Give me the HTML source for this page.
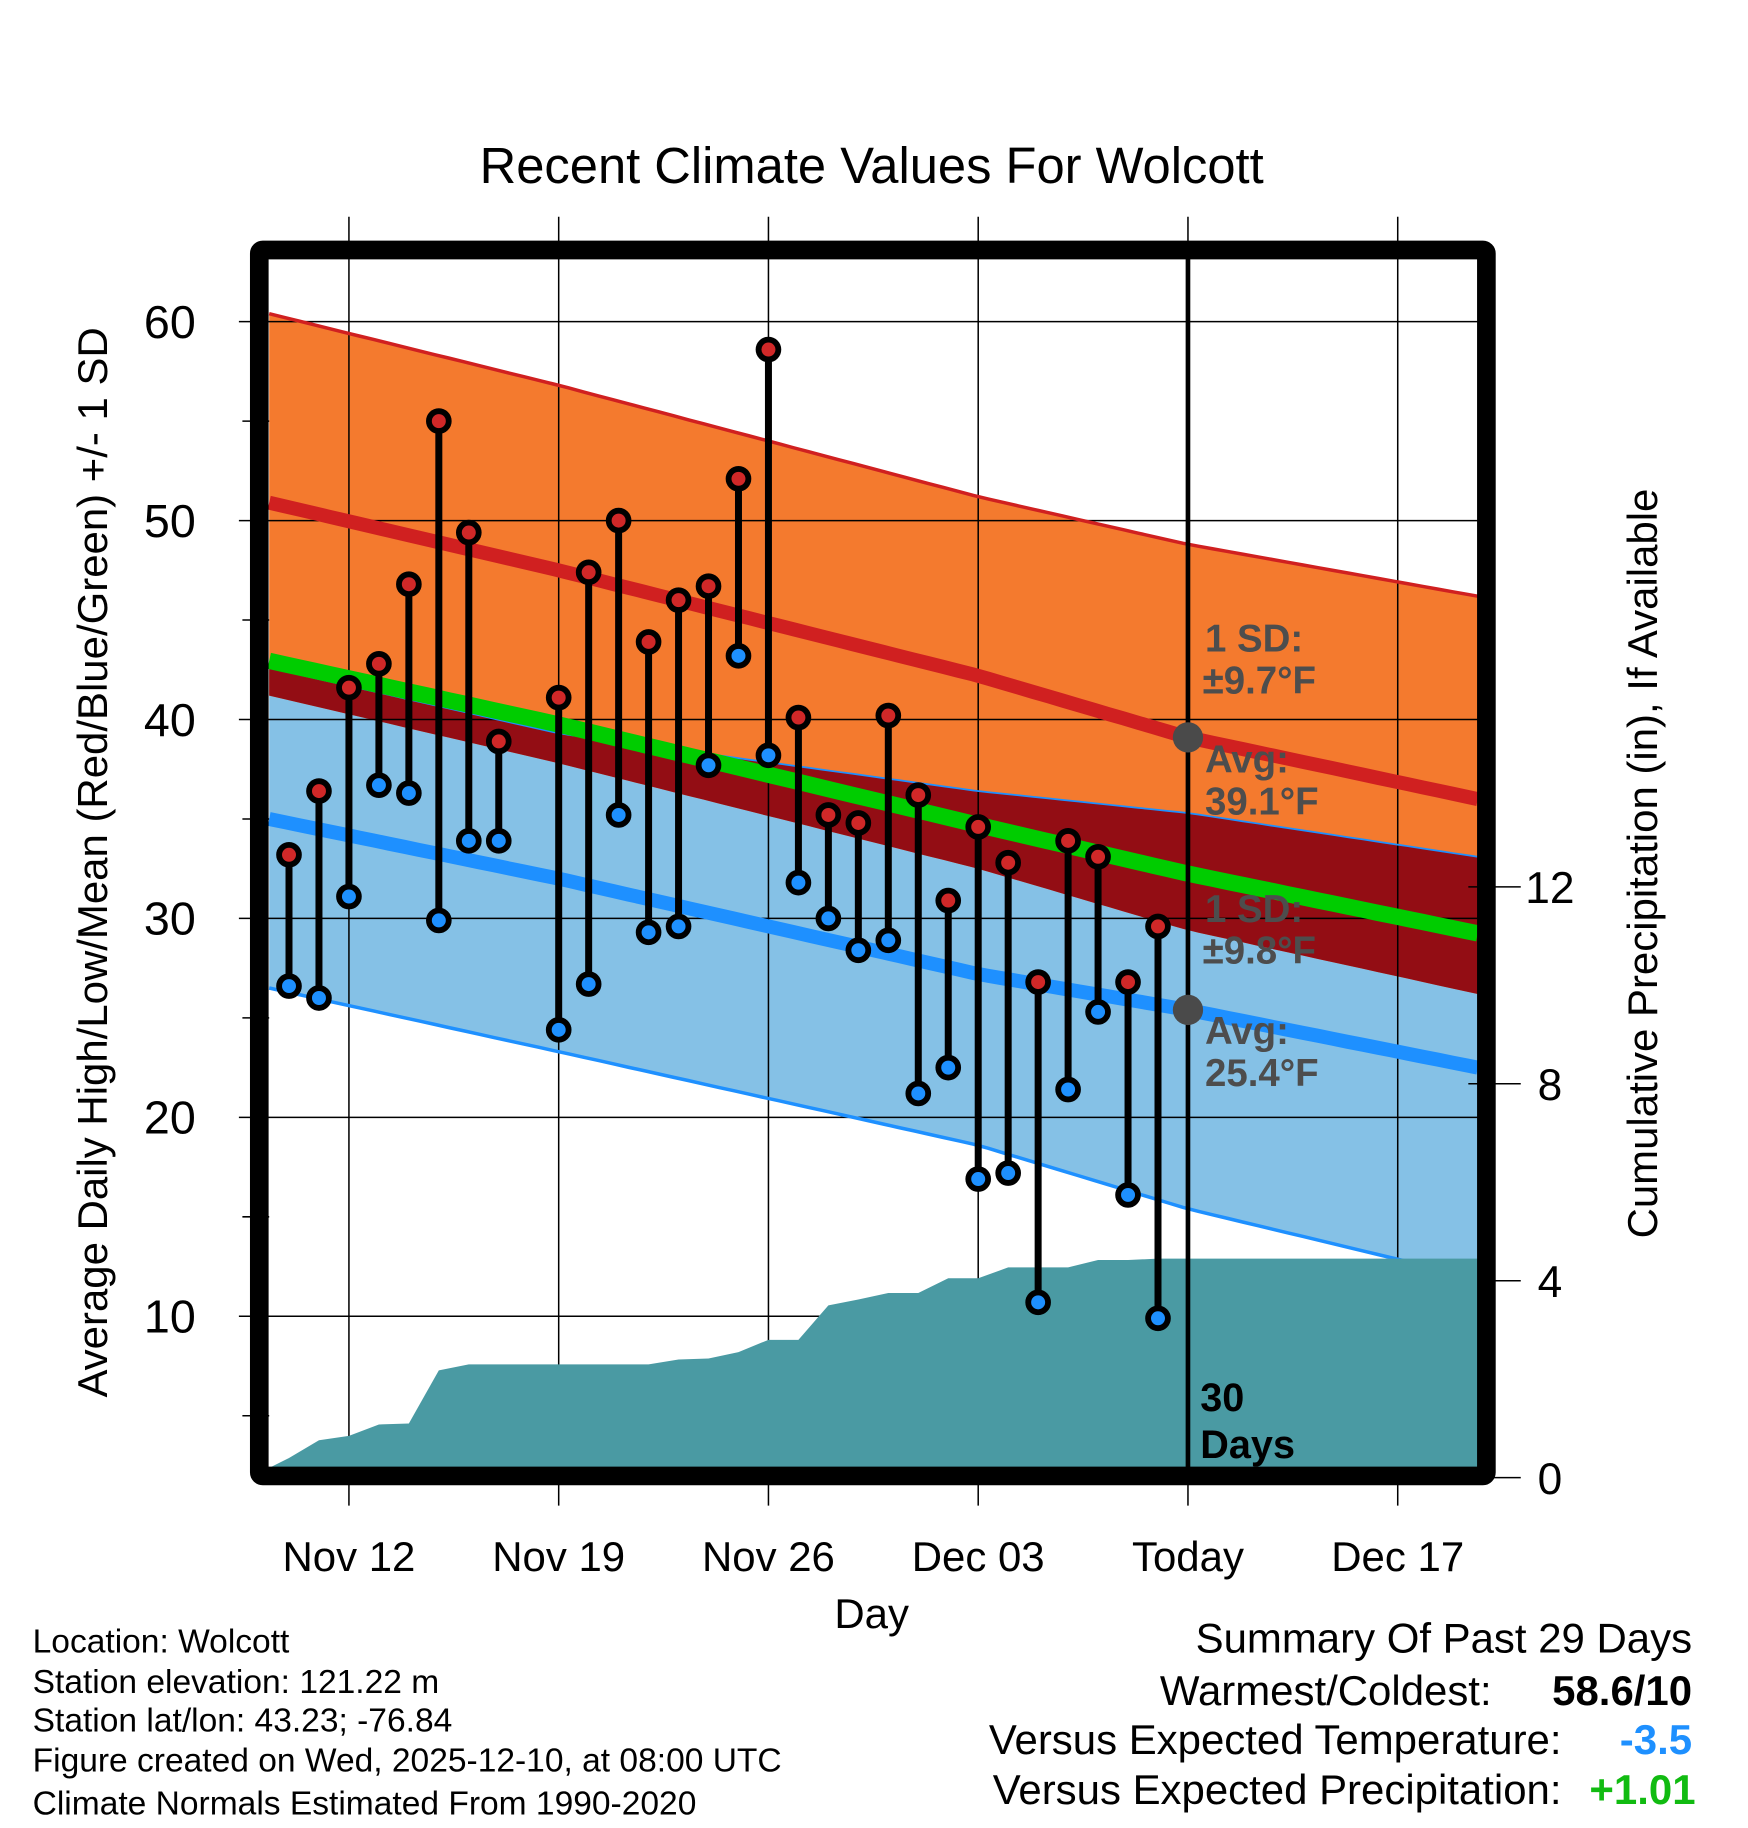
<!DOCTYPE html>
<html><head><meta charset="utf-8"><style>
html,body{margin:0;padding:0;background:#fff}
svg{display:block}
text{font-family:"Liberation Sans",Arial,sans-serif}
</style></head><body>
<svg id="chart" width="1748" height="1828" viewBox="0 0 1500 1568.6" xmlns="http://www.w3.org/2000/svg">
<g id="fills"></g>
<g id="grid"></g>
<g id="lines"></g>
<g id="precip"></g>
<g id="marks"></g>
<g id="labels"></g>
</svg>
<script>
// ---- data ----
const dayLabels = ["Nov 10","Nov 11","Nov 12","Nov 13","Nov 14","Nov 15","Nov 16","Nov 17","Nov 18","Nov 19","Nov 20","Nov 21","Nov 22","Nov 23","Nov 24","Nov 25","Nov 26","Nov 27","Nov 28","Nov 29","Nov 30","Dec 01","Dec 02","Dec 03","Dec 04","Dec 05","Dec 06","Dec 07","Dec 08","Dec 09"];
const highs = [33.2,36.4,41.6,42.8,46.8,55.0,49.4,38.9,null,41.1,47.4,50.0,43.9,46.0,46.7,52.1,58.6,40.1,35.2,34.8,40.2,36.2,30.9,34.6,32.8,26.8,33.9,33.1,26.8,29.6];
const lows  = [26.6,26.0,31.1,36.7,36.3,29.9,33.9,33.9,null,24.4,26.7,35.2,29.3,29.6,37.7,43.2,38.2,31.8,30.0,28.4,28.9,21.2,22.5,16.9,17.2,10.7,21.4,25.3,16.1,9.9];
const precip = [0.4,0.76,0.85,1.08,1.1,2.18,2.3,2.3,2.3,2.3,2.3,2.3,2.3,2.4,2.42,2.55,2.8,2.8,3.5,3.62,3.75,3.75,4.05,4.05,4.27,4.27,4.27,4.42,4.42,4.45];
const precipStart = 0.2;
// normals at day offsets (0 = Nov 10)
const normDays  = [-0.66,9,23,30,39.67];
const highAvg   = [50.9,47.5,42.2,39.1,36.0];
const highUpper = [60.4,56.8,51.2,48.8,46.2];
const highLower = [41.2,37.8,32.5,29.4,26.2];
const lowAvg    = [35.0,32.0,27.2,25.4,22.5];
const lowUpper  = [42.6,39.3,36.4,35.3,33.1];
const lowLower  = [26.5,23.3,18.6,15.4,11.9];
const tempTicks = [10,20,30,40,50,60];
const tempMinor = [5,15,25,35,45,55];
const precipTicks = [0,4,8,12];
const xTickDays = [2,9,16,23,30,37];
const xTickLabels = ["Nov 12","Nov 19","Nov 26","Dec 03","Today","Dec 17"];
const todayDay = 30;

// ---- axes ----
const L=231,R=1268,T=222,B=1259;
const xs = d => 248 + d*25.714;
const ys = v => 276 + (60 - v)*17.07;
const yp = p => 1268 - p*42.25;
const NS="http://www.w3.org/2000/svg";
function mk(tag, parent, attrs){const e=document.createElementNS(NS,tag);for(const k in attrs)e.setAttribute(k,attrs[k]);document.getElementById(parent).appendChild(e);return e;}
function interp(arr,d){for(let i=0;i<normDays.length-1;i++){if(d<=normDays[i+1]){const t=(d-normDays[i])/(normDays[i+1]-normDays[i]);return arr[i]+t*(arr[i+1]-arr[i]);}}return arr[arr.length-1];}
const sampleD=[];for(let d=normDays[0];d<normDays[4];d+=0.5)sampleD.push(d);
sampleD.push(normDays[4]);
function band(upF,loF){let s=sampleD.map(d=>xs(d).toFixed(1)+','+ys(upF(d)).toFixed(1));let s2=sampleD.slice().reverse().map(d=>xs(d).toFixed(1)+','+ys(loF(d)).toFixed(1));return s.concat(s2).join(' ');}
function line(f){return sampleD.map(d=>xs(d).toFixed(1)+','+ys(f(d)).toFixed(1)).join(' ');}

let e;
e=mk('polygon','fills',{points:band(d=>interp(lowUpper,d),d=>interp(lowLower,d)),fill:'#85c1e6'});


e=mk('polygon','fills',{points:band(d=>interp(highUpper,d),d=>interp(highLower,d)),fill:'#f47a2e'});


e=mk('polygon','fills',{points:band(d=>Math.min(interp(lowUpper,d),interp(highUpper,d)),d=>Math.max(interp(highLower,d),interp(lowLower,d))),fill:'#930d14'});



// grid
xTickDays.forEach((d,i)=>{
  e=mk('line','grid',{x1:xs(d),x2:xs(d),y1:186,y2:1292,stroke:'#000','stroke-width':1.3});
  
  
  e=mk('text','labels',{x:xs(d),y:1348,'font-size':36,'text-anchor':'middle'});
  e.textContent=xTickLabels[i];
  
  
});
tempTicks.forEach(v=>{
  e=mk('line','grid',{x1:205,x2:R,y1:ys(v),y2:ys(v),stroke:'#000','stroke-width':1.3});
  
  
  e=mk('text','labels',{x:168,y:ys(v)+14,'font-size':40,'text-anchor':'end'});
  e.textContent=v;
  
  
});
tempMinor.forEach(v=>{
  if(ys(v)<B){e=mk('line','grid',{x1:208,x2:L,y1:ys(v),y2:ys(v),stroke:'#000','stroke-width':1.3});
  
  }
});
precipTicks.forEach(p=>{
  e=mk('line','grid',{x1:1260,x2:1305,y1:yp(p),y2:yp(p),stroke:'#000','stroke-width':1.3});
  
  
  e=mk('text','labels',{x:1330,y:yp(p)+14,'font-size':38,'text-anchor':'middle'});
  e.textContent=p;
  
  
});

// normal lines
e=mk('polyline','lines',{points:line(d=>interp(highUpper,d)),fill:'none',stroke:'#d02020','stroke-width':3});


e=mk('polyline','lines',{points:line(d=>interp(lowLower,d)),fill:'none',stroke:'#1e90ff','stroke-width':3});


e=mk('polyline','lines',{points:line(d=>interp(lowUpper,d)),fill:'none',stroke:'#1e90ff','stroke-width':1.5});


e=mk('polyline','lines',{points:line(d=>(interp(highAvg,d)+interp(lowAvg,d))/2),fill:'none',stroke:'#00cc00','stroke-width':14});


e=mk('polyline','lines',{points:line(d=>interp(highAvg,d)),fill:'none',stroke:'#d02020','stroke-width':12});


e=mk('polyline','lines',{points:line(d=>interp(lowAvg,d)),fill:'none',stroke:'#1e90ff','stroke-width':12});



// precip area
let pts=[xs(normDays[0])+','+yp(0), xs(normDays[0])+','+yp(precipStart)];
precip.forEach((p,i)=>pts.push(xs(i)+','+yp(p)));
pts.push(xs(normDays[4])+','+yp(precip[precip.length-1]));
pts.push(xs(normDays[4])+','+yp(0));
e=mk('polygon','precip',{points:pts.join(' '),fill:'#4a9aa3'});



e=mk('rect','precip',{x:L-2,y:B,width:R-L+4,height:15,fill:'#000'});



// today line
e=mk('line','marks',{x1:xs(todayDay),x2:xs(todayDay),y1:T,y2:B,stroke:'#000','stroke-width':4});



// stems and dots
highs.forEach((h,i)=>{
  if(h==null)return;
  e=mk('line','marks',{x1:xs(i),x2:xs(i),y1:ys(h),y2:ys(lows[i]),stroke:'#000','stroke-width':6});
  
  
});
highs.forEach((h,i)=>{
  if(h==null)return;
  e=mk('circle','marks',{cx:xs(i),cy:ys(h),r:8.5,fill:'#d02828',stroke:'#000','stroke-width':5});
  
  
  e=mk('circle','marks',{cx:xs(i),cy:ys(lows[i]),r:8.5,fill:'#1e90ff',stroke:'#000','stroke-width':5});
  
  
});

// today avg markers
e=mk('circle','marks',{cx:xs(todayDay),cy:ys(interp(highAvg,todayDay)),r:13,fill:'#4a4a4a'});


e=mk('circle','marks',{cx:xs(todayDay),cy:ys(interp(lowAvg,todayDay)),r:13,fill:'#4a4a4a'});



// frame
e=mk('rect','marks',{x:222.5,y:214.5,width:1053,height:1052,fill:'none',stroke:'#000','stroke-width':16,rx:3});


</script>
<svg style="position:absolute;left:0;top:0" width="1748" height="1828" viewBox="0 0 1500 1568.6" xmlns="http://www.w3.org/2000/svg">
<text x="748" y="157" font-size="43.5" text-anchor="middle">Recent Climate Values For Wolcott</text>
<text transform="translate(92,740) rotate(-90)" font-size="36" text-anchor="middle">Average Daily High/Low/Mean (Red/Blue/Green) +/- 1 SD</text>
<text transform="translate(1422,741) rotate(-90)" font-size="36" text-anchor="middle">Cumulative Precipitation (in), If Available</text>
<text x="748" y="1397" font-size="36" text-anchor="middle">Day</text>
<g font-weight="bold" font-size="33" fill="#4d4d4d">
<text x="1034" y="559">1 SD:</text>
<text x="1032" y="595">±9.7°F</text>
<text x="1034" y="663">Avg:</text>
<text x="1034" y="699">39.1°F</text>
<text x="1034" y="791">1 SD:</text>
<text x="1032" y="827">±9.8°F</text>
<text x="1034" y="896">Avg:</text>
<text x="1034" y="932">25.4°F</text>
</g>
<text x="1030" y="1211" font-size="34" font-weight="bold">30</text>
<text x="1030" y="1251" font-size="34" font-weight="bold">Days</text>
<g font-size="28.8">
<text x="28" y="1418">Location: Wolcott</text>
<text x="28" y="1453">Station elevation: 121.22 m</text>
<text x="28" y="1486">Station lat/lon: 43.23; -76.84</text>
<text x="28" y="1520">Figure created on Wed, 2025-12-10, at 08:00 UTC</text>
<text x="28" y="1557">Climate Normals Estimated From 1990-2020</text>
</g>
<g font-size="36" text-anchor="end">
<text x="1452" y="1418">Summary Of Past 29 Days</text>
<text x="1280" y="1463">Warmest/Coldest:</text>
<text x="1452" y="1463" font-weight="bold">58.6/10</text>
<text x="1340" y="1505">Versus Expected Temperature:</text>
<text x="1452" y="1505" font-weight="bold" fill="#1e90ff">-3.5</text>
<text x="1340" y="1548">Versus Expected Precipitation:</text>
<text x="1455" y="1548" font-weight="bold" fill="#11bb11">+1.01</text>
</g>
</svg>
</body></html>
